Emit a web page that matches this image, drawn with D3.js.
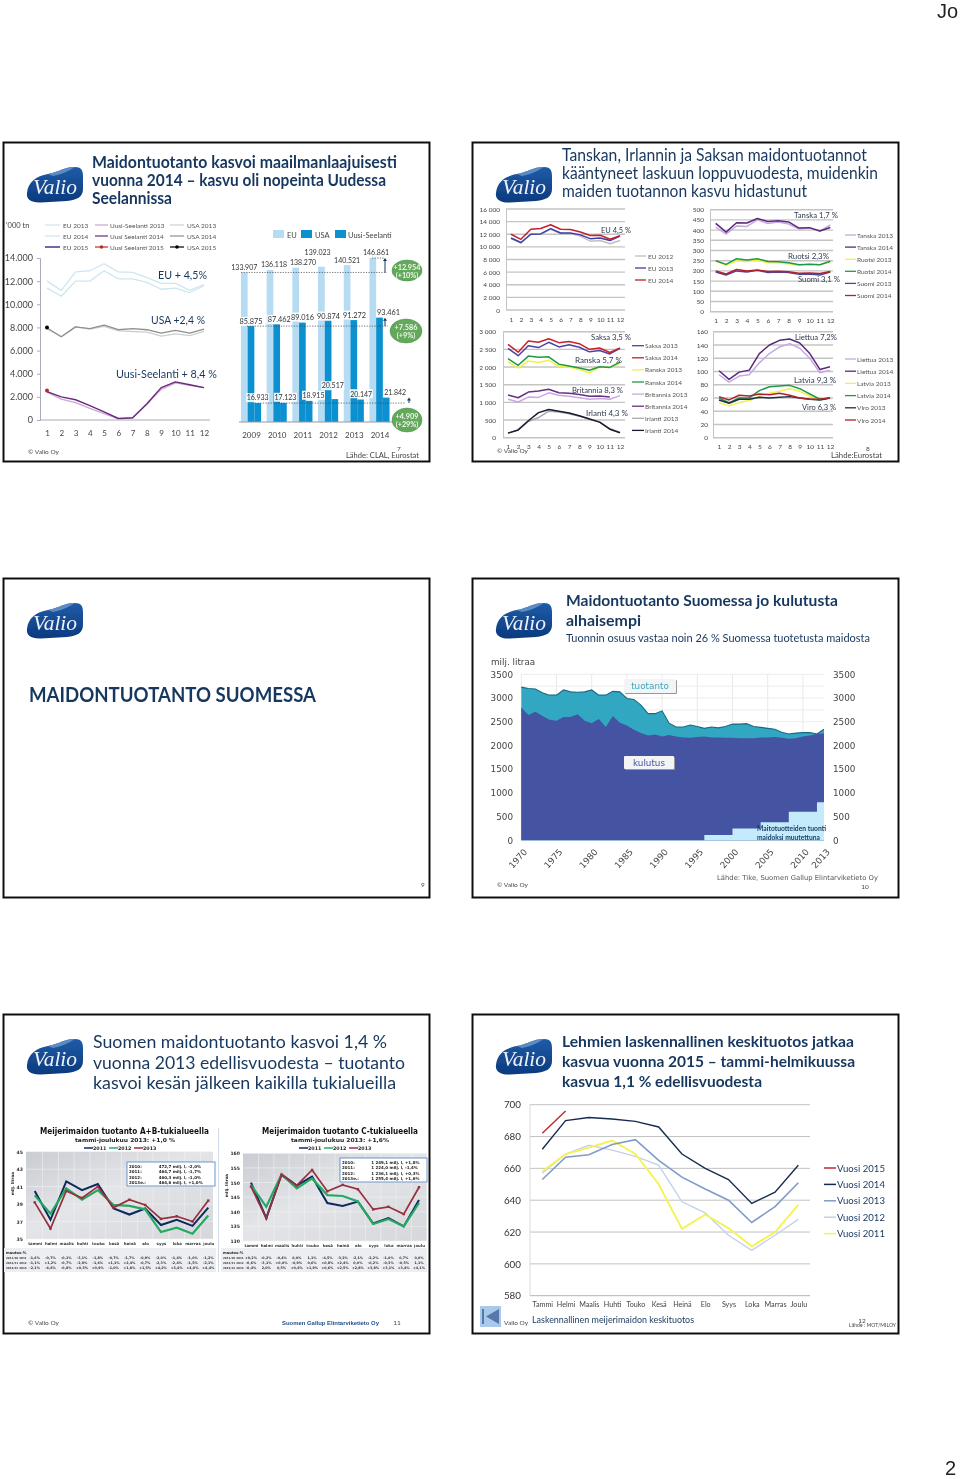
<!DOCTYPE html>
<html><head><meta charset="utf-8">
<script src="https://cdn.jsdelivr.net/npm/d3@7"></script>
<style>html,body{margin:0;padding:0;background:#fff}svg{display:block}</style>
</head><body><script>
// ---------- DATA ----------
const months12 = [1,2,3,4,5,6,7,8,9,10,11,12];
const world_EU2013 = [12000,11200,12800,12900,13500,12800,12750,12300,11800,11800,11200,11700];
const world_EU2014 = [11400,10700,12000,12000,12900,12200,12200,11900,11300,11400,11000,11600];
const world_USA2013 = [7900,7200,8050,7850,8100,7700,7650,7600,7250,7450,7300,7650];
const world_USA2014 = [7950,7200,8050,7900,8200,7800,7900,7800,7500,7750,7500,7850];
const world_NZ2013 = [2400,1800,1500,1000,550,100,170,1350,2650,3200,3000,2800];
const world_NZ2014 = [2450,2000,1750,1250,700,130,200,1400,2800,3300,3050,2800];
const world_NZ2015 = [2550];
const world_USA2015 = [8000];

const barYears = [2009,2010,2011,2012,2013,2014];
const barEU = [133907,136118,138270,139023,140521,146861];
const barUSA = [85875,87462,89016,90874,91272,93461];
const barNZ = [16933,17123,18915,20517,20147,21842];

const eu2012 = [11300,10600,12000,12000,12800,12100,12100,11700,10900,11000,10500,11000];
const eu2013 = [11400,10700,12000,12050,12900,12200,12200,11900,11300,11400,11000,11700];
const eu2014 = [12000,11200,12800,12900,13500,12800,12750,12350,11800,11850,11200,11750];

const saksa2013 = [2530,2320,2600,2550,2700,2570,2630,2560,2430,2470,2370,2530];
const saksa2014 = [2640,2420,2740,2700,2800,2690,2720,2660,2500,2540,2410,2540];
const ranska2013 = [2150,1970,2170,2130,2190,2020,2000,1930,1830,2000,1990,2100];
const ranska2014 = [2240,2050,2310,2280,2290,2080,2030,1970,1910,2010,1990,2140];
const britannia2013 = [1090,1010,1150,1140,1270,1200,1170,1130,1090,1110,1090,1190];
const britannia2014 = [1210,1130,1290,1320,1370,1270,1260,1220,1170,1180,1150,null];
const irlanti2013 = [130,220,460,570,750,730,680,610,530,440,260,150];
const irlanti2014 = [130,220,480,710,800,750,700,620,530,440,240,140];

const tanska2013 = [415,380,420,418,450,432,440,430,405,410,395,425];
const tanska2014 = [433,390,436,435,457,442,446,440,410,412,396,413];
const ruotsi2013 = [248,228,250,245,253,240,240,235,228,232,230,243];
const ruotsi2014 = [250,232,260,253,260,246,245,240,230,233,230,247];
const suomi2013 = [195,180,200,195,203,192,195,192,183,185,180,195];
const suomi2014 = [200,185,207,200,205,197,198,196,188,190,187,197];

const liettua2013 = [95,84,93,95,113,127,137,142,135,120,98,102];
const liettua2014 = [101,88,99,102,127,140,147,149,143,127,103,107];
const latvia2013 = [53,48,53,56,63,67,70,74,70,63,57,60];
const latvia2014 = [60,53,60,60,71,77,78,79,74,66,58,60];
const viro2013 = [57,52,58,58,61,60,61,62,60,58,57,60];
const viro2014 = [62,57,64,63,66,65,67,64,60,58,58,60];

const areaYears = d3.range(1970,2014);
const tuotanto = [3230,3200,3190,3110,3060,3060,3170,3130,3120,3130,3170,3060,3060,3140,3130,2990,2970,2850,2670,2670,2730,2470,2390,2390,2430,2400,2360,2390,2370,2400,2450,2450,2460,2400,2380,2360,2340,2280,2240,2260,2270,2270,2240,2340];
const kulutus = [2800,2640,2710,2620,2540,2520,2600,2600,2660,2520,2470,2560,2390,2620,2480,2420,2330,2260,2210,2230,2190,2220,2190,2170,2160,2180,2190,2170,2170,2160,2160,2150,2150,2150,2170,2170,2180,2160,2140,2150,2190,2210,2240,2250];
const tuonti = [0,0,0,0,0,0,0,0,0,0,0,0,0,0,0,0,0,0,0,0,0,0,0,0,0,0,0,110,110,110,110,250,250,250,250,380,380,380,380,600,600,600,600,800];
const areaTickYears = [1970,1975,1980,1985,1990,1995,2000,2005,2010,2013];

const monthNames = ["tammi","helmi","maalis","huhti","touko","kesä","heinä","elo","syys","loka","marras","joulu"];
const ab2011 = [40.5,37.2,41.6,40.6,41.3,38.5,37.8,38.5,36.6,37.2,36.5,38.6];
const ab2012 = [40.0,37.9,40.8,39.5,40.6,38.9,38.8,38.4,35.8,36.3,35.6,37.7];
const ab2013 = [39.2,36.2,40.5,39.7,41.0,38.6,39.5,38.9,37.3,37.6,37.0,39.4];
const c2011 = [150,137.8,152.8,149,152,143,142,143.5,136,137.8,135,144];
const c2012 = [149.2,141.7,152.8,148,151.4,145.7,145.4,143.5,135.8,137.5,135,143];
const c2013 = [148.6,137.8,152.6,149,154.3,147,149.2,147.7,140.8,141.7,139.2,148.4];
const abInfo = [["2010:","472,7 milj. l,  -2,0%"],["2011:","464,7 milj. l,  -1,7%"],["2012:","460,3 milj. l,  -1,0%"],["2013e.:","464,6 milj. l, +1,0%"]];
const cInfo = [["2010:","1 249,1 milj. l, +1,8%"],["2011:","1 224,0 milj. l, -1,4%"],["2012:","1 236,1 milj. l, +0,3%"],["2013e.:","1 255,4 milj. l, +1,6%"]];
const abRowNames = ["2011/10 2011","2012/11 2012","2013/12 2013"];
const abRow1 = ["-1,6%","-0,7%","-0,1%","-3,1%","-1,8%","-0,7%","-1,7%","-0,9%","-2,0%","-1,4%","-1,0%","-1,2%"];
const abRow2 = ["-1,1%","+1,2%","-0,7%","-2,9%","-1,6%","+1,1%","+2,4%","-0,7%","-2,3%","-2,4%","-1,5%","-2,1%"];
const abRow3 = ["-2,1%","-4,6%","-0,8%","+0,5%","+0,9%","-1,0%","+1,8%","+1,5%","+4,2%","+3,4%","+4,0%","+4,4%"];
const cRowNames = ["2011/10 2011","2012/11 2012","2013/12 2013"];
const cRow1 = ["+0,2%","-0,2%","-0,4%","0,0%","1,1%","-4,5%","-3,2%","-2,1%","-2,2%","-1,0%","0,7%","0,0%"];
const cRow2 = ["-0,6%","-3,1%","+0,0%","-0,9%","0,6%","+0,8%","+2,4%","0,0%","-0,2%","-0,3%","-0,5%","1,1%"];
const cRow3 = ["-0,4%","2,0%","0,5%","+0,6%","+1,9%","+0,6%","+2,5%","+2,8%","+3,8%","+3,1%","+3,4%","+4,1%"];

const milkMonths = ["Tammi","Helmi","Maalis","Huhti","Touko","Kesä","Heinä","Elo","Syys","Loka","Marras","Joulu"];
const milk2015 = [682,696];
const milk2014 = [672,690,692,691,689.5,686,669,660,653,638,645,662];
const milk2013 = [653,667,668.5,675,678,665,654.5,647,640,626,636,651];
const milk2012 = [657,669,674.5,671.5,667.5,662,639,632,618,608.5,618,628];
const milk2011 = [658,669,673,677.5,669,650,622,631,622.5,611,620,637];

// ---------- HELPERS ----------
const NAVY = "#17375e", GREY = "#444";
const svg = d3.select("body").append("svg").attr("width",960).attr("height",1479);
const defs = svg.append("defs");
const grad = defs.append("linearGradient").attr("id","logoG").attr("x1",0).attr("y1",0).attr("x2",0).attr("y2",1);
grad.append("stop").attr("offset",0).attr("stop-color","#1f5ca8");
grad.append("stop").attr("offset",1).attr("stop-color","#0b3a7d");
const cg = defs.append("linearGradient").attr("id","chartBg").attr("x1",0).attr("y1",0).attr("x2",1).attr("y2",1);
cg.append("stop").attr("offset",0).attr("stop-color","#c9ccd3");
cg.append("stop").attr("offset",.45).attr("stop-color","#e4e5e8");
cg.append("stop").attr("offset",1).attr("stop-color","#d6d7da");
defs.append("filter").attr("id","soft").attr("x","-5%").attr("y","-5%").attr("width","110%").attr("height","110%")
  .append("feGaussianBlur").attr("stdDeviation",0.35);

const root = svg.append("g").attr("filter","url(#soft)");
function txt(x,y,s,o={}){
  const t = (o.g||root).append("text").attr("x",x).attr("y",y).text(s)
    .attr("font-family",o.font||"Lato, sans-serif")
    .attr("font-size",o.size||8).attr("fill",o.fill||GREY)
    .attr("font-weight",o.weight||400).attr("text-anchor",o.anchor||"start");
  if(o.len){t.attr("textLength",o.len).attr("lengthAdjust","spacingAndGlyphs");}
  if(o.style)t.attr("font-style",o.style);
  return t;
}
function frame(x,y){root.append("rect").attr("x",x+.5).attr("y",y+.5).attr("width",426).attr("height",319).attr("fill","#fff").attr("stroke","#111").attr("stroke-width",2);}
function logo(x,y){
  const g=root.append("g").attr("transform",`translate(${x},${y})`);
  g.append("path").attr("d","M0,26 C1,15 9,9 21,7 C32,5 37,0 48,0 C54,0 56,3 56,9 L56,22 C56,30 50,33 40,34 L14,35.5 C4,36 -1,32 0,26 Z").attr("fill","url(#logoG)");
  g.append("path").attr("d","M21,7 C32,5 37,0 48,0 C44,2 38,7 26,9 Z").attr("fill","#5d8cc4");
  txt(6,26.5,"Valio",{g,font:"'Liberation Serif',serif",size:20,fill:"#eef3fa",style:"italic",len:44});
}
function lineSwatch(x,y,w,c,sw,s,o={}){
  root.append("line").attr("x1",x).attr("x2",x+w).attr("y1",y).attr("y2",y).attr("stroke",c).attr("stroke-width",sw);
  txt(x+w+(o.gap||1),y+(o.dy||2.5),s,{size:o.size||6.5,fill:o.fill||"#555"});
}
function lineChart(c){
  const g = root.append("g");
  const xS = d3.scaleLinear().domain([1,12]).range([c.x1,c.x12]);
  const yS = d3.scaleLinear().domain(c.domain).range([c.y0,c.yT]);
  if(c.grid) g.selectAll("line.g").data(c.ticks).join("line").attr("x1",c.gridL).attr("x2",c.gridR)
      .attr("y1",d=>yS(d)).attr("y2",d=>yS(d)).attr("stroke",c.gridColor||"#c4c4c4").attr("stroke-width",c.gridW||1.4);
  const ax = g.append("g").attr("transform",`translate(${c.gridL},0)`).call(d3.axisLeft(yS).tickValues(c.ticks).tickFormat(c.fmt).tickSize(c.tick||0).tickPadding(c.pad||5));
  ax.select(".domain").attr("stroke",c.axisColor||"#c4c4c4");
  ax.selectAll("line").attr("stroke",c.axisColor||"#c4c4c4");
  ax.selectAll("text").attr("font-family","Lato, sans-serif").attr("font-size",c.labelSize||6.5).attr("fill",c.labelFill||GREY);
  const bx = g.append("g").attr("transform",`translate(0,${c.y0})`).call(d3.axisBottom(xS).tickValues(months12).tickFormat(d3.format("d")).tickSize(0).tickPadding(c.xpad||7));
  bx.select(".domain").remove();
  bx.selectAll("text").attr("font-family","Lato, sans-serif").attr("font-size",c.xSize||c.labelSize||6.5).attr("fill",c.labelFill||GREY);
  const line = d3.line().defined(d=>d!=null).x((d,i)=>xS(i+1)).y(d=>yS(d));
  c.series.forEach(s=>{
    g.append("path").attr("d",line(s.v)).attr("fill","none").attr("stroke",s.c).attr("stroke-width",s.w||1.5).attr("stroke-linejoin","round");
  });
  return {xS,yS,g};
}

// ---------- PAGE ----------
txt(937,18,"Jo",{font:"'Liberation Sans',sans-serif",size:20,fill:"#222"});
txt(945,1475,"2",{font:"'Liberation Sans',sans-serif",size:20,fill:"#222"});
[[3,142],[472,142],[3,578],[472,578],[3,1014],[472,1014]].forEach(p=>{frame(p[0],p[1]);});
[[27,167],[496,167],[27,603],[496,603],[27,1039],[496,1039]].forEach(p=>logo(p[0],p[1]));

// --- Panel 1 ---
[["Maidontuotanto kasvoi maailmanlaajuisesti",168,305],["vuonna 2014 – kasvu oli nopeinta Uudessa",186,294],["Seelannissa",204,80]].forEach(l=>txt(92,l[1],l[0],{size:17,weight:700,fill:NAVY,len:l[2]}));
txt(6,228,"'000 tn",{size:7.5});
const thousands = d=>d===0?"0":d3.format(",")(d).replace(/,/g,".");
const spaced = d=>d===0?"0":d3.format(",")(d).replace(/,/g," ");
const w1 = lineChart({x1:47,x12:204,y0:420,yT:258,domain:[0,14000],ticks:[0,2000,4000,6000,8000,10000,12000,14000],fmt:thousands,gridL:40,tick:3,pad:4,labelSize:9,xSize:8,labelFill:"#444",axisColor:"#aab",xpad:10,
 series:[{v:world_EU2013,c:"#cfe6f0",w:1.3},{v:world_EU2014,c:"#cfe6f0",w:1.3},{v:world_USA2013,c:"#cfcfcf",w:1.3},{v:world_USA2014,c:"#8f8f8f",w:1.3},{v:world_NZ2013,c:"#cba6d3",w:1.3},{v:world_NZ2014,c:"#6a2a78",w:1.4}]});
root.append("line").attr("x1",40).attr("x2",210).attr("y1",420).attr("y2",420).attr("stroke","#aab");
w1.g.append("circle").attr("cx",w1.xS(1)).attr("cy",w1.yS(world_NZ2015[0])).attr("r",2).attr("fill","#c0282a");
w1.g.append("circle").attr("cx",w1.xS(1)).attr("cy",w1.yS(world_USA2015[0])).attr("r",2).attr("fill","#000");
lineSwatch(45,225,15,"#cfe6f0",1.2,"EU 2013",{gap:3});
lineSwatch(45,236,15,"#cfe6f0",1.2,"EU 2014",{gap:3});
lineSwatch(45,247,15,"#1d1a78",1.3,"EU 2015",{gap:3});
lineSwatch(95,225,13,"#cba6d3",1.2,"Uusi-Seelanti 2013",{gap:2});
lineSwatch(95,236,13,"#6a2a78",1.2,"Uusi Seelanti 2014",{gap:2});
lineSwatch(95,247,13,"#c0282a",1.2,"Uusi Seelanti 2015",{gap:2});
lineSwatch(170,225,14,"#cfcfcf",1.2,"USA 2013",{gap:3});
lineSwatch(170,236,14,"#8f8f8f",1.2,"USA 2014",{gap:3});
lineSwatch(170,247,14,"#000",1.2,"USA 2015",{gap:3});
root.append("circle").attr("cx",101.5).attr("cy",247).attr("r",1.8).attr("fill","#c0282a");
root.append("circle").attr("cx",177).attr("cy",247).attr("r",1.8).attr("fill","#000");
txt(158,279,"EU + 4,5%",{size:11,fill:NAVY,len:49});
txt(151,324,"USA +2,4 %",{size:11,fill:NAVY,len:54});
txt(116,378,"Uusi-Seelanti + 8,4 %",{size:11,fill:NAVY,len:101});
txt(28,454,"© Valio Oy",{size:6.5});

// bars
const barX = d3.scalePoint().domain(barYears).range([251,379.5]);
const barH = d3.scaleLinear().domain([0,146861]).range([422,258]);
const bw = 6.7;
const barG = root.append("g");
[[barEU,"#b5dcf3",-1],[barUSA,"#0b90d0",0],[barNZ,"#0b90d0",1]].forEach(([arr,col,k])=>{
  barG.selectAll(null).data(arr).join("rect")
   .attr("x",(d,i)=>barX(barYears[i])+(k-.5)*bw)
   .attr("width",bw).attr("y",d=>barH(d)).attr("height",d=>422-barH(d)).attr("fill",col);
});
root.append("line").attr("x1",239).attr("x2",400).attr("y1",422).attr("y2",422).attr("stroke","#999");
const labelDxDy = [
 [[0,-5.7],[4,-5.7],[7.3,-5.3],[-3.8,-14.4],[0,-5],[3.2,-5.7]],
 [[0,-4.7],[2.6,-5],[0,-5.6],[.5,-4.5],[.8,-5],[9,-5.3]],
 [[0,-5.4],[2,-5.6],[4.4,-5.6],[-2,-13.4],[.7,-5.8],[9,-5.9]]];
[barEU,barUSA,barNZ].forEach((arr,si)=>{
  arr.forEach((v,i)=>{
    const cx = barX(barYears[i])+(si-1)*bw, cy = barH(v)+labelDxDy[si][i][1];
    const lx = cx+labelDxDy[si][i][0];
    const w = (v>=100000)?27:(si===1?24:23);
    root.append("rect").attr("x",lx-w/2).attr("y",cy-4.5).attr("width",w).attr("height",9).attr("fill","#fff").attr("opacity",.9);
    txt(lx,cy+2.8,thousands(v),{size:7.8,anchor:"middle",fill:"#333",len:w-1});
  });
});
const barAx = root.append("g").attr("transform","translate(0,422)").call(d3.axisBottom(barX).tickSize(0).tickPadding(10));
barAx.select(".domain").remove();
barAx.selectAll("text").attr("font-family","Lato, sans-serif").attr("font-size",8).attr("fill",GREY);
[[273,"#b5dcf3","EU",287],[301,"#0b90d0","USA",315],[335,"#0b90d0","Uusi-Seelanti",348]].forEach(l=>{
  root.append("rect").attr("x",l[0]).attr("y",230).attr("width",11).attr("height",8).attr("fill",l[1]);
  txt(l[3],238,l[2],{size:7.5});
});
[[241,387,barH(barEU[0])],[247,388,barH(barUSA[0])],[255,405,barH(barNZ[0])],[372,385,barH(barEU[5])]].forEach(d=>{
  root.append("line").attr("x1",d[0]).attr("x2",d[1]).attr("y1",d[2]).attr("y2",d[2]).attr("stroke","#444").attr("stroke-width",.7).attr("stroke-dasharray","1.3 1.3");
});
[[385,barH(barEU[0]),barH(barEU[5])],[385,barH(barUSA[0]),barH(barUSA[5])],[409,barH(barNZ[0]),barH(barNZ[5])]].forEach(d=>{
  root.append("line").attr("x1",d[0]).attr("x2",d[0]).attr("y1",d[1]).attr("y2",d[2]+2).attr("stroke",NAVY).attr("stroke-width",1);
  root.append("path").attr("d",`M${d[0]-2},${d[2]+3} L${d[0]},${d[2]} L${d[0]+2},${d[2]+3} Z`).attr("fill",NAVY);
});
[[407,270.5,15,10.5,"+12.954","(+10%)"],[406,331,16,12,"+7.586","(+9%)"],[407,420,15,12,"+4.909","(+29%)"]].forEach(d=>{
  root.append("ellipse").attr("cx",d[0]).attr("cy",d[1]).attr("rx",d[2]).attr("ry",d[3]).attr("fill","#63a95c").attr("stroke","#4d8a48").attr("stroke-width",.5);
  txt(d[0],d[1]-1,d[4],{size:7.3,fill:"#f3f6f0",anchor:"middle",weight:700});
  txt(d[0],d[1]+7,d[5],{size:7.3,fill:"#f3f6f0",anchor:"middle",weight:700});
});
txt(399,451,"7",{size:6.5,anchor:"middle"});
txt(346,458,"Lähde: CLAL, Eurostat",{size:7,len:73});

// --- Panel 2 ---
[["Tanskan, Irlannin ja Saksan maidontuotannot",161,305],["kääntyneet laskuun loppuvuodesta, muidenkin",179,316],["maiden tuotannon kasvu hidastunut",197,245]].forEach(l=>txt(562,l[1],l[0],{size:16.5,weight:400,fill:NAVY,len:l[2]}));
const smallCfg = {grid:true,fmt:spaced,tick:0,labelSize:6.5,xpad:7};
lineChart({...smallCfg,x1:511,x12:620,y0:310,yT:209,domain:[0,16000],ticks:d3.range(0,16001,2000),gridL:506,gridR:625,pad:6,
 series:[{v:eu2012,c:"#bfbfbf"},{v:eu2013,c:"#3a3fa8"},{v:eu2014,c:"#c2202c"}]});
lineChart({...smallCfg,x1:508,x12:620,y0:437.7,yT:331.7,domain:[0,3000],ticks:[0,500,1000,1500,2000,2500,3000],gridL:503,gridR:625,pad:7,
 series:[{v:saksa2013,c:"#4b44a0"},{v:saksa2014,c:"#c8202c"},{v:ranska2013,c:"#f4ef4a"},{v:ranska2014,c:"#1f9a4a"},{v:britannia2013,c:"#c8a8e0"},{v:britannia2014,c:"#6a2f82"},{v:irlanti2013,c:"#aaa"},{v:irlanti2014,c:"#141c2e"}]});
lineChart({...smallCfg,x1:715.7,x12:830.3,y0:311.7,yT:209.7,domain:[0,500],ticks:d3.range(0,501,50),gridL:710,gridR:833,pad:6,
 series:[{v:tanska2013,c:"#c8a8e0"},{v:tanska2014,c:"#5a2a7a"},{v:ruotsi2013,c:"#f4ef4a"},{v:ruotsi2014,c:"#1f9a4a"},{v:suomi2013,c:"#4b44a0"},{v:suomi2014,c:"#b3202c"}]});
lineChart({...smallCfg,x1:719,x12:830,y0:437.7,yT:331.7,domain:[0,160],ticks:d3.range(0,161,20),gridL:713,gridR:833,pad:5,
 series:[{v:liettua2013,c:"#c8a8e0"},{v:liettua2014,c:"#5a2a7a"},{v:latvia2013,c:"#f4ef4a"},{v:latvia2014,c:"#1f9a4a"},{v:viro2013,c:"#1c3048"},{v:viro2014,c:"#b3202c"}]});
[["EU 2012","#bfbfbf"],["EU 2013","#3a3fa8"],["EU 2014","#c2202c"]].forEach((l,i)=>lineSwatch(635,256+12*i,11,l[1],1.3,l[0],{gap:2}));
[["Saksa 2013","#4b44a0"],["Saksa 2014","#c8202c"],["Ranska 2013","#f4ef4a"],["Ranska 2014","#1f9a4a"],["Britannia 2013","#c8a8e0"],["Britannia 2014","#6a2f82"],["Irlanti 2013","#aaa"],["Irlanti 2014","#141c2e"]].forEach((l,i)=>lineSwatch(632,345.7+12.1*i,12,l[1],1.3,l[0],{gap:1}));
[["Tanska 2013","#c8a8e0"],["Tanska 2014","#5a2a7a"],["Ruotsi 2013","#f4ef4a"],["Ruotsi 2014","#1f9a4a"],["Suomi 2013","#4b44a0"],["Suomi 2014","#b3202c"]].forEach((l,i)=>lineSwatch(845,235+12.1*i,11,l[1],1.3,l[0],{gap:1}));
[["Liettua 2013","#c8a8e0"],["Liettua 2014","#5a2a7a"],["Latvia 2013","#f4ef4a"],["Latvia 2014","#1f9a4a"],["Viro 2013","#1c3048"],["Viro 2014","#b3202c"]].forEach((l,i)=>lineSwatch(845,359+12.2*i,11,l[1],1.3,l[0],{gap:1}));
[["EU 4,5 %",601,233,30],["Saksa 3,5 %",591,340,40],["Ranska  5,7 %",575,363,47],["Britannia 8,3 %",572,393,51],["Irlanti  4,3 %",586,416,42],["Tanska 1,7 %",794,218,44],["Ruotsi 2,3%",788,259,41],["Suomi 3,1 %",798,282,42],["Liettua 7,2%",795,340,42],["Latvia  9,3 %",794,383,42],["Viro 6,3 %",802,410,34]].forEach(l=>txt(l[1],l[2],l[0],{size:8,fill:"#2c3a4e",len:l[3]}));
txt(497,453,"© Valio Oy",{size:6.5});
txt(868,451,"8",{size:6.5,anchor:"middle"});
txt(831,458,"Lähde:Eurostat",{size:7,len:51});

// --- Panel 3 ---
txt(29,702,"MAIDONTUOTANTO SUOMESSA",{size:20,weight:700,fill:NAVY,len:287});
txt(423,887,"9",{size:6.5,anchor:"middle"});

// --- Panel 4 ---
txt(566,606,"Maidontuotanto Suomessa jo kulutusta",{size:16,weight:700,fill:NAVY,len:272});
txt(566,626,"alhaisempi",{size:16,weight:700,fill:NAVY,len:75});
txt(566,642,"Tuonnin osuus vastaa noin 26 % Suomessa tuotetusta maidosta",{size:11,fill:NAVY,len:304});
const VERD = "'DejaVu Sans',sans-serif";
txt(491,665,"milj. litraa",{font:VERD,size:8.8,fill:"#444"});
const ax = d3.scaleLinear().domain([1970,2013]).range([521.3,824]);
const ay = d3.scaleLinear().domain([0,3500]).range([840.3,674.3]);
const ag = root.append("g");
ag.selectAll("line.v").data([1970,1975,1980,1985,1990,1995,2000,2005,2010]).join("line").attr("x1",d=>ax(d)).attr("x2",d=>ax(d)).attr("y1",ay(3500)).attr("y2",ay(0)).attr("stroke","#e8e8e8");
ag.selectAll("line.h").data(d3.range(0,3501,250)).join("line").attr("x1",521).attr("x2",824).attr("y1",d=>ay(d)).attr("y2",d=>ay(d)).attr("stroke","#ececec");
const aArea = (arr,curve)=>d3.area().x((d,i)=>ax(areaYears[i])).y0(ay(0)).y1(d=>ay(d)).curve(curve||d3.curveLinear)(arr);
ag.append("path").attr("d",aArea(tuotanto)).attr("fill","#33a7c2");
ag.append("path").attr("d",d3.line().x((d,i)=>ax(areaYears[i])).y(d=>ay(d))(tuotanto)).attr("fill","none").attr("stroke","#186a86").attr("stroke-width",1.1);
ag.append("path").attr("d",aArea(kulutus)).attr("fill","#4552a3");
ag.append("path").attr("d",aArea(tuonti,d3.curveStepBefore)).attr("fill","#c3ebfb");
const axL = root.append("g").attr("transform","translate(521,0)").call(d3.axisLeft(ay).tickValues(d3.range(0,3501,500)).tickSize(0).tickPadding(8).tickFormat(d3.format("d")));
const axR = root.append("g").attr("transform","translate(824,0)").call(d3.axisRight(ay).tickValues(d3.range(0,3501,500)).tickSize(0).tickPadding(9).tickFormat(d3.format("d")));
[axL,axR].forEach(a=>{a.select(".domain").remove();a.selectAll("text").attr("font-family",VERD).attr("font-size",8.8).attr("fill","#444");});
const axB = root.append("g").attr("transform","translate(0,840.3)").call(d3.axisBottom(ax).tickValues(areaTickYears).tickSize(0).tickFormat(d3.format("d")));
axB.select(".domain").remove();
axB.selectAll("text").attr("font-family",VERD).attr("font-size",8.8).attr("fill","#444").attr("text-anchor","end")
  .attr("x",0).attr("y",0).attr("dy",0).attr("transform","translate(6,12) rotate(-48)");
[[624,679,52,14,"tuotanto","#3aa6bd"],[624,756,50,13,"kulutus","#4552a3"]].forEach(b=>{
  root.append("rect").attr("x",b[0]+1).attr("y",b[1]+1).attr("width",b[2]).attr("height",b[3]).attr("rx",1).attr("fill","#999");
  root.append("rect").attr("x",b[0]).attr("y",b[1]).attr("width",b[2]).attr("height",b[3]).attr("rx",1).attr("fill","#f2f4f6");
  txt(b[0]+b[2]/2,b[1]+10,b[4],{font:VERD,size:8.8,fill:b[5],anchor:"middle"});
});
txt(757,831,"Maitotuotteiden tuonti",{size:6.8,weight:700,fill:NAVY,len:69});
txt(757,840,"maidoksi muutettuna",{size:6.8,weight:700,fill:NAVY,len:63});
txt(717,880,"Lähde: Tike, Suomen Gallup Elintarviketieto Oy",{font:VERD,size:6.8,fill:"#555",len:161});
txt(865,889,"10",{size:6.5,anchor:"middle"});
txt(497,887,"© Valio Oy",{size:6.5});

// --- Panel 5 ---
[["Suomen maidontuotanto kasvoi 1,4 %",1048,294],["vuonna 2013 edellisvuodesta – tuotanto",1069,312],["kasvoi kesän jälkeen kaikilla tukialueilla",1089,303]].forEach(l=>txt(93,l[1],l[0],{size:18,weight:400,fill:NAVY,len:l[2]}));
function regional(c){
  const xS = d3.scalePoint().domain(monthNames).range([c.x1,c.x12]);
  const yS = d3.scaleLinear().domain(c.domain).range([c.y0,c.yT]);
  const g = root.append("g");
  g.append("rect").attr("x",c.L).attr("y",c.yT).attr("width",c.R-c.L).attr("height",c.y0-c.yT).attr("fill","url(#chartBg)");
  const step = xS.step();
  g.selectAll("line.v").data(monthNames).join("line").attr("x1",d=>xS(d)+step/2).attr("x2",d=>xS(d)+step/2).attr("y1",c.yT).attr("y2",c.y0).attr("stroke","#f2f2f2").attr("stroke-width",.6);
  g.selectAll("line.h").data(c.ticks).join("line").attr("x1",c.L).attr("x2",c.R).attr("y1",d=>yS(d)).attr("y2",d=>yS(d)).attr("stroke","#f2f2f2").attr("stroke-width",.6);
  const ya = g.append("g").attr("transform",`translate(${c.L},0)`).call(d3.axisLeft(yS).tickValues(c.ticks).tickSize(0).tickPadding(3));
  ya.select(".domain").remove();
  ya.selectAll("text").attr("font-family",VERD).attr("font-size",4.6).attr("font-weight",700).attr("fill","#333");
  const xa = g.append("g").attr("transform",`translate(0,${c.y0})`).call(d3.axisBottom(xS).tickSize(0).tickPadding(3));
  xa.select(".domain").remove();
  xa.selectAll("text").attr("font-family",VERD).attr("font-size",3.9).attr("font-weight",700).attr("fill","#333");
  const line = d3.line().x((d,i)=>xS(monthNames[i])).y(d=>yS(d));
  [[c.a,"#0e2a5e",2],[c.b,"#27a865",2.2],[c.c,"#96303e",1.7]].forEach(s=>{
    g.append("path").attr("d",line(s[0])).attr("fill","none").attr("stroke",s[1]).attr("stroke-width",s[2]);
  });
  c.c.forEach((d,i)=>g.append("rect").attr("x",xS(monthNames[i])-1.2).attr("y",yS(d)-1.2).attr("width",2.4).attr("height",2.4).attr("fill","#96303e"));
  txt(c.tx,c.ty,c.title,{font:VERD,size:8,weight:700,fill:"#111",len:c.tl});
  txt(c.sx,c.ty+8,c.sub,{font:VERD,size:5.5,weight:700,fill:"#222",len:c.sl});
  [["2011","#0e2a5e",0],["2012","#27a865",25],["2013","#96303e",50]].forEach(l=>{
    g.append("line").attr("x1",c.lx+l[2]).attr("x2",c.lx+l[2]+9).attr("y1",c.ty+14).attr("y2",c.ty+14).attr("stroke",l[1]).attr("stroke-width",1.5);
    txt(c.lx+l[2]+9,c.ty+16,l[0],{font:VERD,size:4.8,weight:700,fill:"#222"});
  });
  g.append("rect").attr("x",c.bx).attr("y",c.by).attr("width",c.bw).attr("height",24).attr("fill","#fff").attr("stroke","#4a7fc0").attr("stroke-width",.8);
  c.info.forEach((r,i)=>{
    txt(c.bx+2,c.by+6+i*5.3,r[0],{font:VERD,size:4,weight:700,fill:"#222"});
    txt(c.bx+c.bw*.36,c.by+6+i*5.3,r[1],{font:VERD,size:4,weight:700,fill:"#222"});
  });
  g.append("rect").attr("x",c.tL).attr("y",c.tY).attr("width",c.tR-c.tL).attr("height",24).attr("fill","#eceef1");
  txt(c.tL+2,c.tY+6,"muutos-%",{font:VERD,size:3.6,weight:700,fill:"#222"});
  c.rows.forEach((r,ri)=>{
    txt(c.tL+2,c.tY+11+ri*5,c.rowNames[ri],{font:VERD,size:2.7,weight:700,fill:"#333"});
    r.forEach((v,i)=>txt(xS(monthNames[i]),c.tY+11+ri*5,v,{font:VERD,size:3.3,weight:700,fill:"#333",anchor:"middle"}));
  });
  txt(c.yLabelX,(c.yT+c.y0)/2+6,"milj. litraa",{font:VERD,size:4,weight:700,fill:"#222"}).attr("transform",`rotate(-90 ${c.yLabelX} ${(c.yT+c.y0)/2})`);
}
regional({x1:34.7,x12:208.3,L:26,R:213,yT:1151.7,y0:1239,domain:[35,45],ticks:[35,37,39,41,43,45],a:ab2011,b:ab2012,c:ab2013,tx:40,ty:1134,tl:169,title:"Meijerimaidon tuotanto A+B-tukialueella",sx:75,sl:100,sub:"tammi-joulukuu 2013: +1,0 %",lx:84,bx:127,by:1162,bw:88,info:abInfo,tL:4,tR:216,tY:1248,rows:[abRow1,abRow2,abRow3],rowNames:abRowNames,yLabelX:8});
regional({x1:251,x12:419,L:243,R:427,yT:1153.3,y0:1241,domain:[130,160],ticks:[130,135,140,145,150,155,160],a:c2011,b:c2012,c:c2013,tx:262,ty:1134,tl:156,title:"Meijerimaidon tuotanto C-tukialueella",sx:291,sl:98,sub:"tammi-joulukuu 2013: +1,6%",lx:299,bx:340,by:1158,bw:87,info:cInfo,tL:221,tR:427,tY:1248,rows:[cRow1,cRow2,cRow3],rowNames:cRowNames,yLabelX:222});
root.append("line").attr("x1",218.5).attr("x2",218.5).attr("y1",1128).attr("y2",1272).attr("stroke","#cfdbe8");
txt(28,1325,"© Valio Oy",{size:6.5});
txt(282,1325,"Suomen Gallup Elintarviketieto Oy",{font:"'Liberation Sans',sans-serif",size:6,weight:700,fill:"#1c4f8c",len:97});
txt(397,1325,"11",{size:6.5,anchor:"middle"});

// --- Panel 6 ---
[["Lehmien laskennallinen keskituotos jatkaa",1047,292],["kasvua vuonna 2015 – tammi-helmikuussa",1067,293],["kasvua 1,1 % edellisvuodesta",1087,200]].forEach(l=>txt(562,l[1],l[0],{size:15.5,weight:700,fill:NAVY,len:l[2]}));
const mX = d3.scalePoint().domain(milkMonths).range([542.3,798.3]);
const mY = d3.scaleLinear().domain([580,700]).range([1295.7,1104.7]);
const mg = root.append("g");
mg.selectAll("line").data([600,620,640,660,680,700]).join("line").attr("x1",530).attr("x2",810).attr("y1",d=>mY(d)).attr("y2",d=>mY(d)).attr("stroke","#bbb").attr("stroke-width",.9);
mg.append("line").attr("x1",530).attr("x2",810).attr("y1",mY(580)).attr("y2",mY(580)).attr("stroke","#aaa").attr("stroke-width",.9);
mg.append("line").attr("x1",530).attr("x2",530).attr("y1",mY(700)).attr("y2",mY(580)).attr("stroke","#ccc").attr("stroke-width",.7);
const mLine = d3.line().x((d,i)=>mX(milkMonths[i])).y(d=>mY(d));
[[milk2012,"#c3d2ea",1.4],[milk2011,"#f5f352",1.9],[milk2013,"#7f9bc9",1.6],[milk2014,"#172c50",1.4],[milk2015,"#c0282a",1.4]].forEach(s=>{
  mg.append("path").attr("d",mLine(s[0])).attr("fill","none").attr("stroke",s[1]).attr("stroke-width",s[2]);
});
const mA = root.append("g").attr("transform","translate(530,0)").call(d3.axisLeft(mY).tickValues([580,600,620,640,660,680,700]).tickSize(0).tickPadding(9));
mA.select(".domain").remove();
mA.selectAll("text").attr("font-family","Lato, sans-serif").attr("font-size",9.8).attr("fill","#333");
const mB = root.append("g").attr("transform","translate(0,1295.7)").call(d3.axisBottom(mX).tickSize(0).tickPadding(6));
mB.select(".domain").remove();
mB.selectAll("text").attr("font-family","Lato, sans-serif").attr("font-size",7.2).attr("fill","#444");
[["Vuosi 2015","#c0282a"],["Vuosi 2014","#172c50"],["Vuosi 2013","#7f9bc9"],["Vuosi 2012","#c3d2ea"],["Vuosi 2011","#f5f352"]].forEach((l,i)=>{
  const y=1168+16.4*i;
  root.append("line").attr("x1",824).attr("x2",836).attr("y1",y).attr("y2",y).attr("stroke",l[1]).attr("stroke-width",1.5);
  txt(837,y+3.5,l[0],{size:10,fill:NAVY,len:48});
});
root.append("rect").attr("x",480).attr("y",1306).attr("width",21).attr("height",21).attr("fill","#a9c8ea");
root.append("rect").attr("x",482).attr("y",1309).attr("width",2).attr("height",15).attr("fill","#5578a8");
root.append("path").attr("d","M486,1316.5 L499,1309 L499,1324 Z").attr("fill","#5578a8");
txt(504,1325,"Valio Oy",{size:6.5});
txt(532,1323,"Laskennallinen meijerimaidon keskituotos",{size:9,fill:NAVY,len:162});
txt(862,1323,"12",{size:6.5,anchor:"middle"});
txt(849,1327,"Lähde : MOT/MILOY",{size:5.5,len:47});
</script></body></html>
